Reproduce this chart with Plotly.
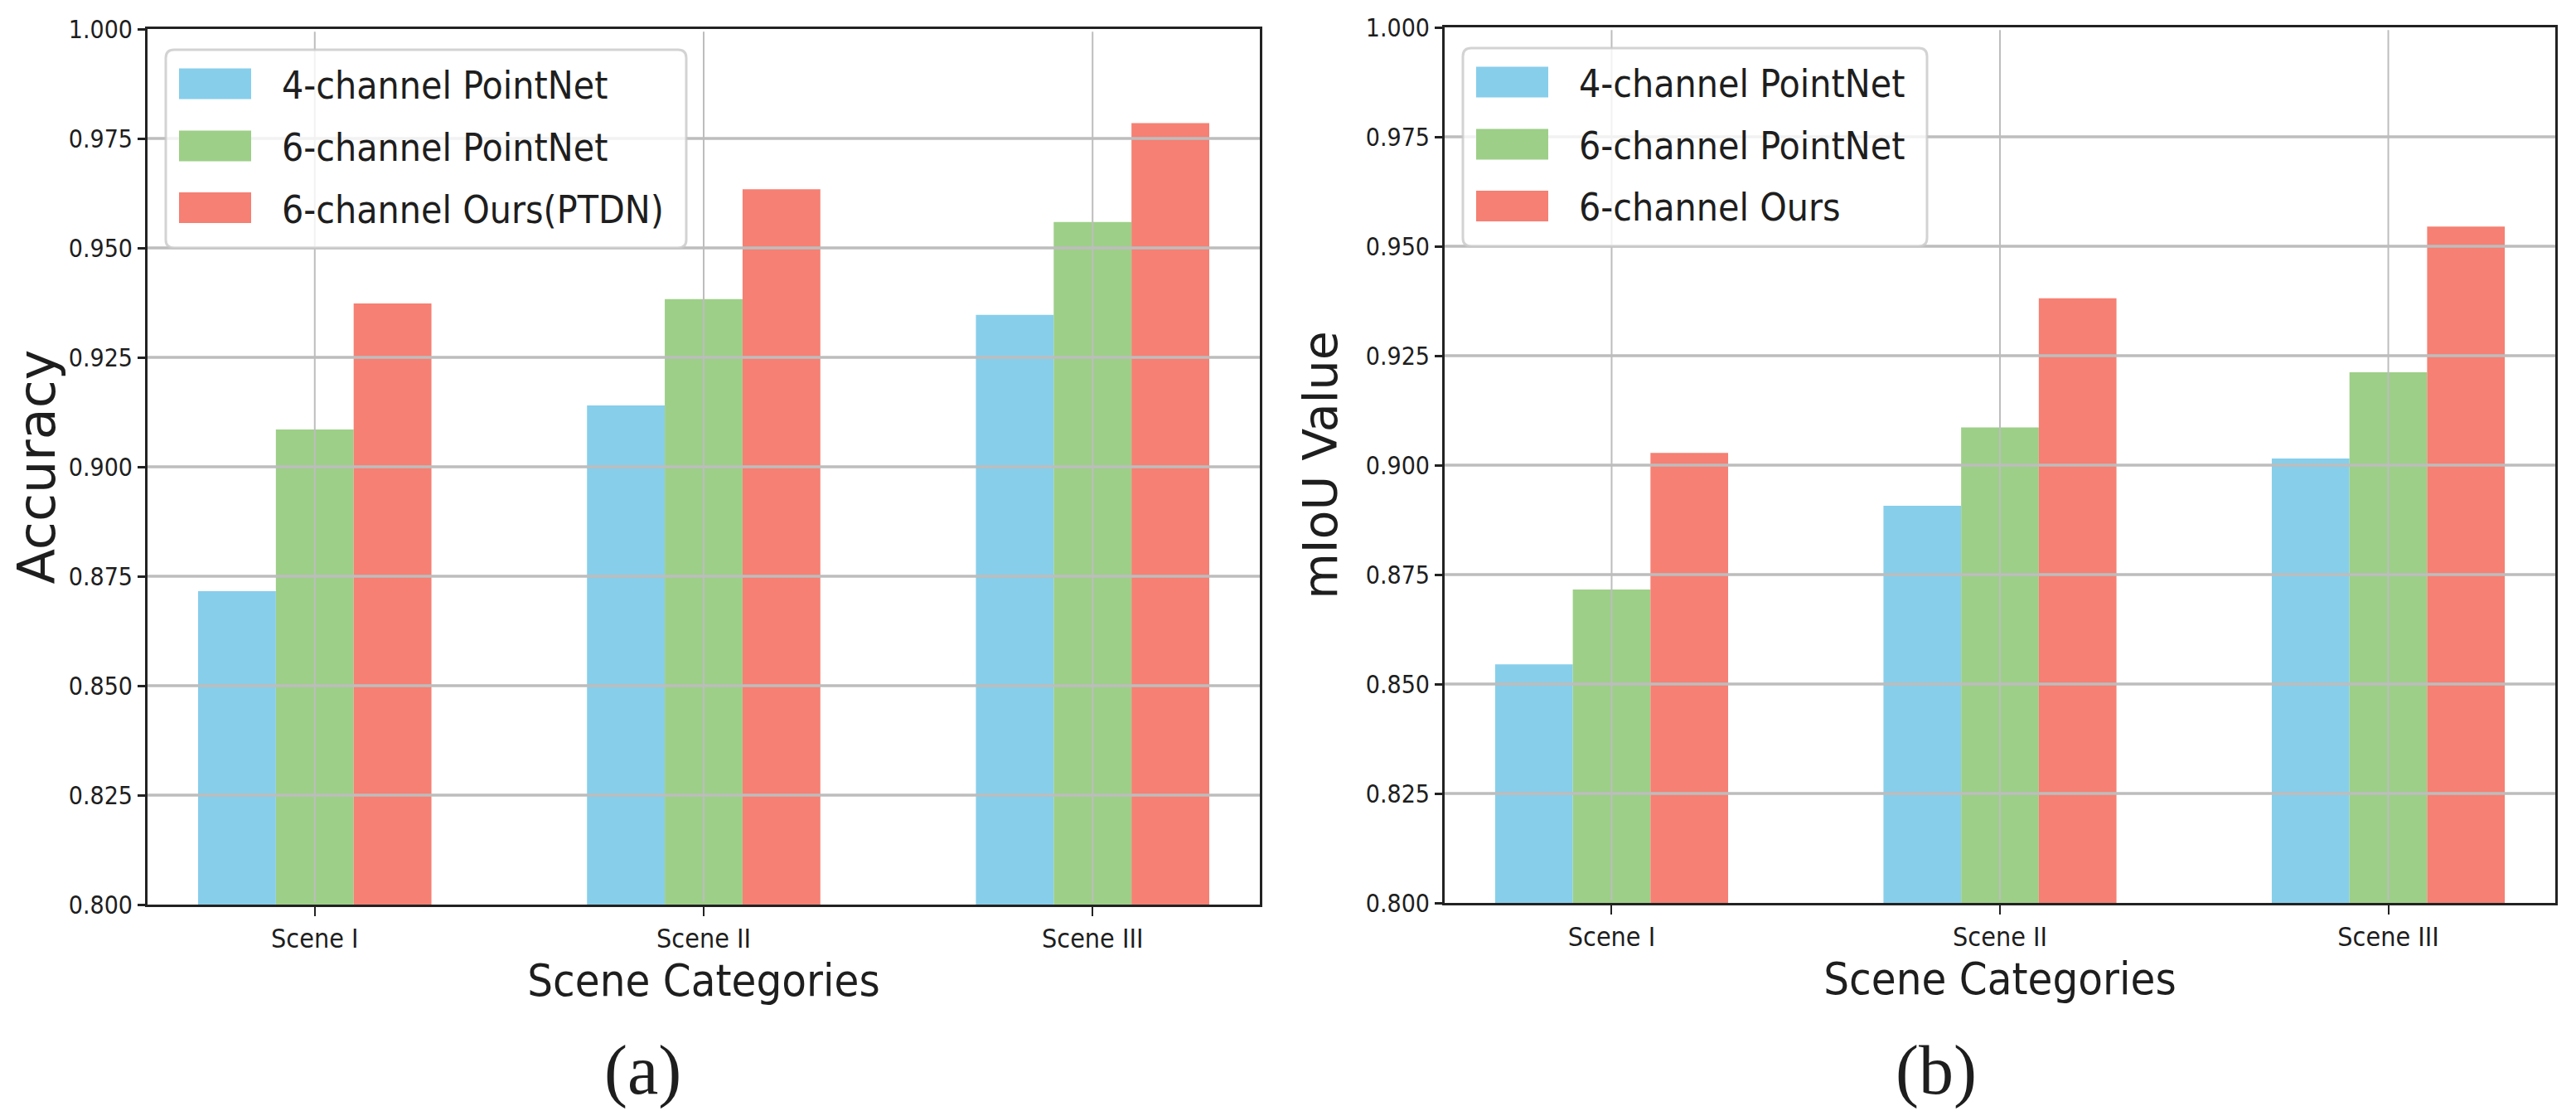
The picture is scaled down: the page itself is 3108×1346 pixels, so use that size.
import plotly.graph_objects as go

# ---------------- data ----------------
categories = ["Scene I", "Scene II", "Scene III"]
names_a = ["4-channel PointNet", "6-channel PointNet", "6-channel Ours(PTDN)"]
names_b = ["4-channel PointNet", "6-channel PointNet", "6-channel Ours"]

acc_4ch = [0.8716, 0.9140, 0.9347]
acc_6ch = [0.9085, 0.9383, 0.9559]
acc_ours = [0.9373, 0.9634, 0.9785]

miou_4ch = [0.8545, 0.8907, 0.9015]
miou_6ch = [0.8716, 0.9086, 0.9212]
miou_ours = [0.9028, 0.9381, 0.9545]

y_ticks = [0.800, 0.825, 0.850, 0.875, 0.900, 0.925, 0.950, 0.975, 1.000]
y_tick_labels = ["0.800", "0.825", "0.850", "0.875", "0.900", "0.925", "0.950", "0.975", "1.000"]

x_title = "Scene Categories"
y_title_a = "Accuracy"
y_title_b = "mIoU Value"
captions = ["(a)", "(b)"]

colors = ["#87CEEB", "#9DCF88", "#F58073"]

# ---------------- layout constants ----------------
PAGE_W, PAGE_H = 3108, 1346
OFF = 8                      # default page body margin
W, H = PAGE_W - OFF, PAGE_H - OFF
TXT = "#1e1e1e"
SPINE = "#222222"
GRID = "#BDBDBD"
COND = "DejaVu Sans Condensed, DejaVu Sans, sans-serif"
SANS = "DejaVu Sans, sans-serif"


def px(xp):
    return (xp - OFF) / W


def py(yp):
    return 1 - (yp - OFF) / H


ax_a = dict(left=178, right=1520, top=35, bottom=1091, legend_w=650)
ax_b = dict(left=1743, right=3083, top=33, bottom=1089, legend_w=582)

fig = go.Figure()

panels = [
    ("x", "y", [acc_4ch, acc_6ch, acc_ours], names_a),
    ("x2", "y2", [miou_4ch, miou_6ch, miou_ours], names_b),
]
for xa, ya, series, names in panels:
    for vals, name, col in zip(series, names, colors):
        fig.add_trace(go.Bar(
            x=categories, y=vals, name=name, xaxis=xa, yaxis=ya,
            marker=dict(color=col, line=dict(width=0)),
            showlegend=False,
        ))

common_x = dict(
    type="category", range=[-0.43, 2.43], automargin=False,
    showline=True, mirror=True, linecolor=SPINE, linewidth=3,
    showgrid=False, zeroline=False,
    ticks="outside", ticklen=11, tickwidth=2, tickcolor=SPINE,
    tickfont=dict(family=COND, size=32, color=TXT),
    title=dict(text=x_title, font=dict(family=COND, size=54, color=TXT), standoff=12),
)
common_y = dict(
    range=[0.8, 1.0], automargin=False,
    showline=True, mirror=True, linecolor=SPINE, linewidth=3,
    showgrid=False, zeroline=False,
    tickmode="array", tickvals=y_ticks, ticktext=y_tick_labels,
    ticks="outside", ticklen=9, tickwidth=3, tickcolor=SPINE,
    tickfont=dict(family=COND, size=30, color=TXT),
)

fig.update_layout(
    width=W, height=H, autosize=False,
    margin=dict(l=0, r=0, t=0, b=0, pad=0),
    paper_bgcolor="white", plot_bgcolor="white",
    barmode="group", bargap=0.4, bargroupgap=0,
    xaxis=dict(common_x, domain=[px(ax_a["left"]), px(ax_a["right"])], anchor="y"),
    yaxis=dict(common_y, domain=[py(ax_a["bottom"]), py(ax_a["top"])], anchor="x",
               title=dict(text=y_title_a, font=dict(family=SANS, size=62, color=TXT), standoff=16)),
    xaxis2=dict(common_x, domain=[px(ax_b["left"]), px(ax_b["right"])], anchor="y2"),
    yaxis2=dict(common_y, domain=[py(ax_b["bottom"]), py(ax_b["top"])], anchor="x2",
                title=dict(text=y_title_b, font=dict(family=SANS, size=57, color=TXT), standoff=16)),
)

shapes = []
annotations = []
for (xa, ya, _, names), ax in zip(panels, [ax_a, ax_b]):
    xd = xa + " domain"
    yd = ya + " domain"
    # grid lines drawn above bars (as in the reference)
    for t in y_ticks[1:-1]:
        shapes.append(dict(type="line", xref=xd, yref=ya, x0=0, x1=1, y0=t, y1=t,
                           line=dict(color=GRID, width=3.5), layer="above"))
    for c in categories:
        shapes.append(dict(type="line", xref=xa, yref=yd, x0=c, x1=c, y0=0.003, y1=0.997,
                           line=dict(color=GRID, width=2), layer="above"))
    # legend box (rounded, semi-transparent)
    L = ax["left"]
    T = ax["top"]
    bx0, bx1 = px(L + 22), px(L + ax["legend_w"])
    by0, by1 = py(T + 264), py(T + 25)
    rx, ry = 10 / W, 10 / H
    path = (f"M{bx0+rx},{by1} L{bx1-rx},{by1} Q{bx1},{by1} {bx1},{by1-ry} "
            f"L{bx1},{by0+ry} Q{bx1},{by0} {bx1-rx},{by0} L{bx0+rx},{by0} "
            f"Q{bx0},{by0} {bx0},{by0+ry} L{bx0},{by1-ry} Q{bx0},{by1} {bx0+rx},{by1} Z")
    shapes.append(dict(type="path", xref="paper", yref="paper", path=path,
                       fillcolor="rgba(255,255,255,0.8)",
                       line=dict(color="rgba(200,200,200,0.8)", width=3), layer="above"))
    for k, (name, col) in enumerate(zip(names, colors)):
        yc = T + [66, 141, 215.5][k]
        shapes.append(dict(type="rect", xref="paper", yref="paper",
                           x0=px(L + 38), x1=px(L + 125), y0=py(yc + 18.5), y1=py(yc - 18.5),
                           fillcolor=col, line=dict(width=0), layer="above"))
        annotations.append(dict(xref="paper", yref="paper", x=px(L + 160), y=py(yc + 2),
                                text=name, showarrow=False, xanchor="left", yanchor="middle",
                                font=dict(family=COND, size=46, color=TXT)))

for cap, cx in zip(captions, [775, 2336]):
    annotations.append(dict(xref="paper", yref="paper", x=px(cx), y=py(1291),
                            text=cap, showarrow=False, xanchor="center", yanchor="middle",
                            font=dict(family="Liberation Serif, DejaVu Serif, serif", size=84, color=TXT)))

fig.update_layout(shapes=shapes, annotations=annotations)

fig.write_html("out.html")
